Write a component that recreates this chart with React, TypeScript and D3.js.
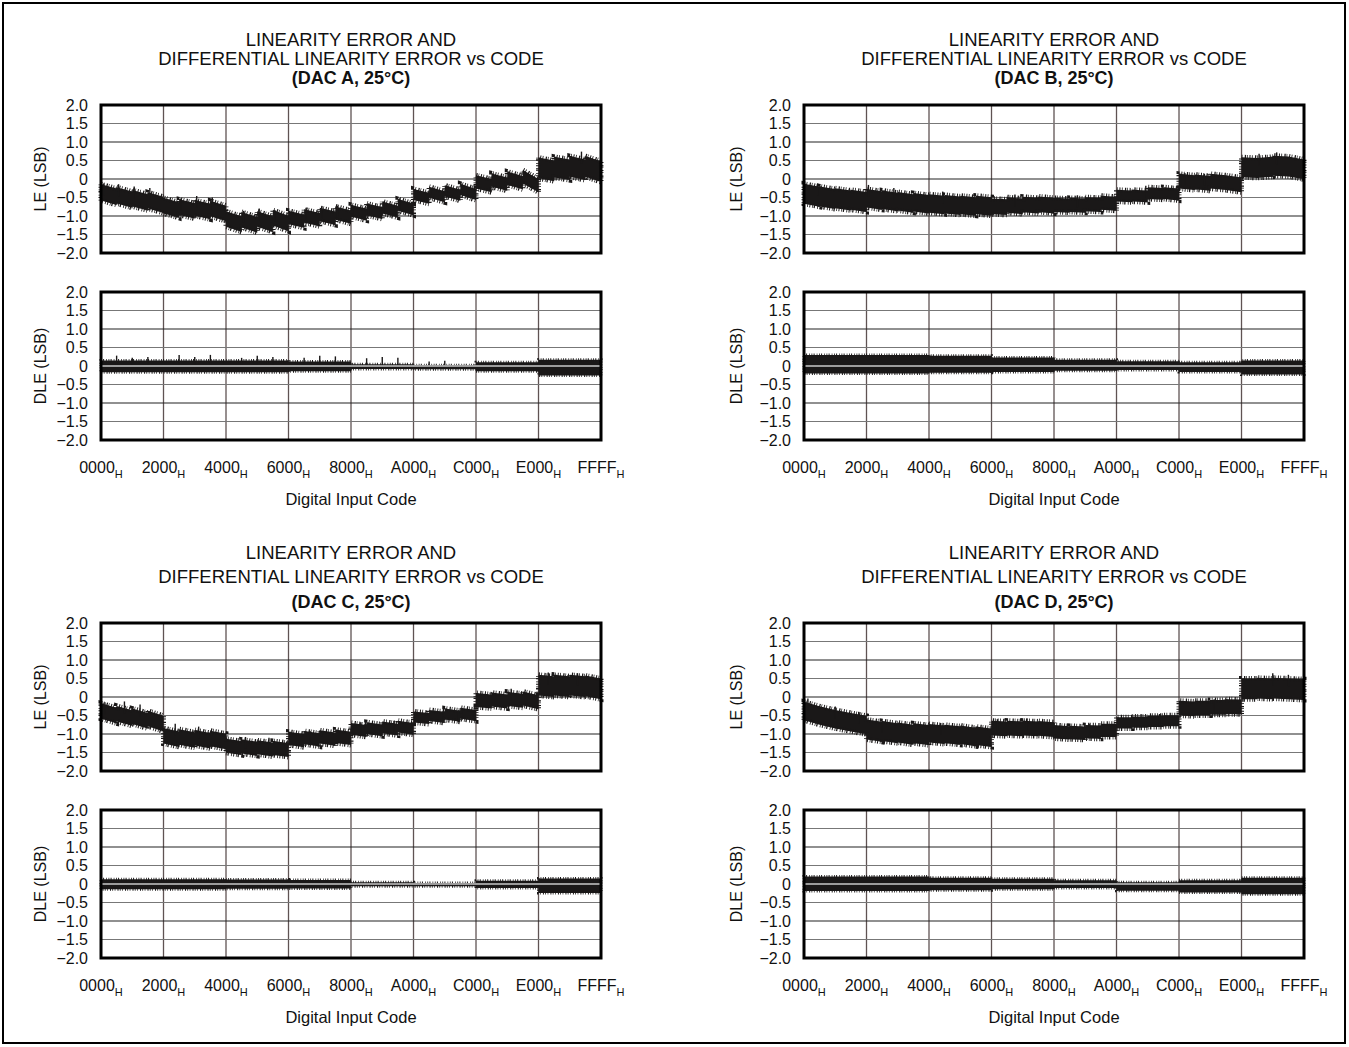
import React from "react";
import * as d3 from "d3";

// ---------- axis data ----------
const xTickCodes = [0x0000, 0x2000, 0x4000, 0x6000, 0x8000, 0xa000, 0xc000, 0xe000, 0xffff];
const xTickLabels = ["0000", "2000", "4000", "6000", "8000", "A000", "C000", "E000", "FFFF"];
const yTickValues = [2.0, 1.5, 1.0, 0.5, 0, -0.5, -1.0, -1.5, -2.0];
const yTickLabels = ["2.0", "1.5", "1.0", "0.5", "0", "\u22120.5", "\u22121.0", "\u22121.5", "\u22122.0"];
const dacNames = ["A", "B", "C", "D"];

// ---------- LE data: band centre at start / end of each 0x800 sub-range, half-width per 0x2000 segment ----------
const leA_start = [-0.36, -0.44, -0.52, -0.58, -0.72, -0.76, -0.78, -0.80, -1.08, -1.10, -1.08, -1.05, -1.04, -1.0, -0.96, -0.92, -0.86, -0.82, -0.77, -0.70, -0.42, -0.36, -0.32, -0.28, -0.08, -0.03, 0.02, 0.06, 0.30, 0.32, 0.34, 0.34];
const leA_end = [-0.48, -0.56, -0.63, -0.70, -0.84, -0.86, -0.88, -0.93, -1.22, -1.24, -1.22, -1.20, -1.14, -1.10, -1.06, -1.03, -0.96, -0.92, -0.88, -0.82, -0.52, -0.48, -0.44, -0.42, -0.18, -0.14, -0.10, -0.18, 0.22, 0.25, 0.25, 0.20];
const leA_half = [0.22, 0.21, 0.21, 0.18, 0.16, 0.15, 0.18, 0.28];

const leB_start = [-0.40, -0.47, -0.52, -0.56, -0.52, -0.56, -0.60, -0.63, -0.66, -0.68, -0.70, -0.70, -0.74, -0.70, -0.69, -0.68, -0.70, -0.70, -0.68, -0.64, -0.45, -0.45, -0.38, -0.38, -0.06, -0.08, -0.06, -0.10, 0.32, 0.30, 0.36, 0.34];
const leB_end = [-0.48, -0.54, -0.58, -0.62, -0.58, -0.62, -0.66, -0.68, -0.70, -0.72, -0.74, -0.74, -0.76, -0.74, -0.72, -0.72, -0.72, -0.72, -0.70, -0.67, -0.47, -0.47, -0.40, -0.42, -0.10, -0.12, -0.10, -0.16, 0.30, 0.33, 0.34, 0.26];
const leB_half = [0.27, 0.25, 0.25, 0.21, 0.19, 0.16, 0.2, 0.27];

const leC_start = [-0.38, -0.45, -0.52, -0.58, -1.05, -1.08, -1.10, -1.12, -1.32, -1.34, -1.36, -1.38, -1.12, -1.10, -1.08, -1.06, -0.86, -0.84, -0.82, -0.80, -0.54, -0.50, -0.46, -0.44, -0.08, -0.07, -0.05, -0.04, 0.32, 0.32, 0.32, 0.30];
const leC_end = [-0.50, -0.57, -0.64, -0.72, -1.14, -1.16, -1.18, -1.20, -1.38, -1.40, -1.42, -1.43, -1.18, -1.16, -1.14, -1.12, -0.92, -0.90, -0.88, -0.86, -0.58, -0.55, -0.52, -0.50, -0.12, -0.12, -0.10, -0.14, 0.28, 0.28, 0.28, 0.22];
const leC_half = [0.21, 0.21, 0.19, 0.18, 0.16, 0.15, 0.19, 0.28];

const leD_start = [-0.38, -0.50, -0.60, -0.68, -0.88, -0.92, -0.96, -0.98, -0.98, -1.0, -1.02, -1.05, -0.84, -0.84, -0.84, -0.85, -0.94, -0.96, -0.94, -0.90, -0.70, -0.68, -0.66, -0.64, -0.30, -0.30, -0.28, -0.26, 0.22, 0.24, 0.24, 0.22];
const leD_end = [-0.50, -0.60, -0.68, -0.76, -0.94, -0.98, -1.02, -1.03, -1.02, -1.04, -1.08, -1.10, -0.86, -0.86, -0.86, -0.88, -0.97, -0.98, -0.95, -0.90, -0.70, -0.68, -0.66, -0.64, -0.32, -0.30, -0.28, -0.27, 0.22, 0.22, 0.22, 0.20];
const leD_half = [0.25, 0.27, 0.25, 0.2, 0.18, 0.15, 0.2, 0.28];

// LE upward spikes (code, peak value)
const leA_spikeCodes = [0x0180, 0x0900, 0x1100, 0x1900, 0x2900, 0x3100, 0x3900, 0x4900, 0x5100, 0x5900, 0x6900, 0x7100, 0x7900, 0x8900, 0x9100, 0x9900, 0xf600];
const leA_spikeValues = [-0.12, -0.14, -0.2, -0.24, -0.52, -0.46, -0.5, -0.86, -0.8, -0.84, -0.78, -0.74, -0.72, -0.66, -0.6, -0.52, 0.74];
const leB_spikeCodes = [0x0700, 0x2100, 0x2e00, 0x4700, 0x6c00, 0x8c00, 0xaf00, 0xc300, 0xcd00, 0xe900, 0xf200];
const leB_spikeValues = [-0.12, -0.16, -0.24, -0.34, -0.42, -0.44, -0.18, 0.16, 0.14, 0.68, 0.72];
const leC_spikeCodes = [0x0200, 0x0c00, 0x1400, 0x2600, 0x3200, 0x4a00, 0x5600, 0x6b00, 0x8500, 0x9600, 0xb700, 0xd200, 0xe500, 0xf400];
const leC_spikeValues = [-0.14, -0.12, -0.2, -0.72, -0.8, -1.08, -1.1, -0.92, -0.68, -0.64, -0.36, 0.22, 0.66, 0.64];
const leD_spikeCodes = [0x0200, 0x1000, 0x1c00, 0x2800, 0x4600, 0x6300, 0x7200, 0x9200, 0xb600, 0xd200, 0xf000, 0xf800];
const leD_spikeValues = [-0.04, -0.26, -0.4, -0.64, -0.7, -0.6, -0.58, -0.72, -0.46, -0.06, 0.64, 0.6];

// ---------- DLE data: band top / bottom per 0x2000 segment ----------
const dleA_hi = [0.15, 0.15, 0.15, 0.12, 0.05, 0.02, 0.10, 0.17];
const dleA_lo = [-0.17, -0.17, -0.17, -0.14, -0.08, -0.09, -0.14, -0.26];
const dleB_hi = [0.30, 0.30, 0.28, 0.23, 0.17, 0.13, 0.10, 0.15];
const dleB_lo = [-0.20, -0.20, -0.18, -0.16, -0.13, -0.11, -0.16, -0.23];
const dleC_hi = [0.13, 0.13, 0.12, 0.11, 0.05, 0.03, 0.09, 0.15];
const dleC_lo = [-0.14, -0.14, -0.13, -0.12, -0.06, -0.06, -0.11, -0.24];
const dleD_hi = [0.20, 0.20, 0.17, 0.14, 0.10, 0.05, 0.10, 0.17];
const dleD_lo = [-0.19, -0.19, -0.17, -0.14, -0.11, -0.18, -0.23, -0.28];

// DLE spikes for DAC A (code, value)
const dleA_spikeCodes = [0x0800, 0x1000, 0x1800, 0x2800, 0x3000, 0x3800, 0x4800, 0x5000, 0x5800, 0x6800, 0x7000, 0x7800, 0x8800, 0x9000, 0x9800, 0xa800, 0xb000];
const dleA_spikeValues = [0.28, 0.22, 0.24, 0.30, 0.24, 0.30, 0.22, 0.28, 0.24, 0.22, 0.28, 0.26, 0.21, 0.24, 0.22, 0.12, 0.14];

const leStarts = [leA_start, leB_start, leC_start, leD_start];
const leEnds = [leA_end, leB_end, leC_end, leD_end];
const leHalfs = [leA_half, leB_half, leC_half, leD_half];
const leSpikes = [
  { codes: leA_spikeCodes, values: leA_spikeValues },
  { codes: leB_spikeCodes, values: leB_spikeValues },
  { codes: leC_spikeCodes, values: leC_spikeValues },
  { codes: leD_spikeCodes, values: leD_spikeValues },
];
const dleHis = [dleA_hi, dleB_hi, dleC_hi, dleD_hi];
const dleLos = [dleA_lo, dleB_lo, dleC_lo, dleD_lo];

type Pt = { code: number; hi: number; lo: number };
const SUB = 0x800;
const SEG = 0x2000;

function leBand(starts: number[], ends: number[], half: number[]): Pt[] {
  const pts: Pt[] = [];
  starts.forEach((s, i) => {
    const c0 = i * SUB;
    const c1 = Math.min((i + 1) * SUB - 1, 0xffff);
    const h = half[Math.floor(i / 4)];
    pts.push({ code: c0, hi: s + h, lo: s - h });
    pts.push({ code: c1, hi: ends[i] + h, lo: ends[i] - h });
  });
  return pts;
}

function dleBand(hi: number[], lo: number[]): Pt[] {
  const pts: Pt[] = [];
  hi.forEach((h, i) => {
    pts.push({ code: i * SEG, hi: h, lo: lo[i] });
    pts.push({ code: Math.min((i + 1) * SEG - 1, 0xffff), hi: h, lo: lo[i] });
  });
  return pts;
}

const FONT = "'Liberation Sans', Arial, Helvetica, sans-serif";
const INK = "#1a1818";
const PLOT_W = 500;
const PLOT_H = 148;

const panelLayout = [
  { x0: 101, dy: 0, labOff: 61, titleY: [46, 65, 84] },
  { x0: 804, dy: 0, labOff: 68, titleY: [46, 65, 84] },
  { x0: 101, dy: 518, labOff: 61, titleY: [559, 583, 608] },
  { x0: 804, dy: 518, labOff: 68, titleY: [559, 583, 608] },
];

function SubPlot({ x0, top, data, isDle, label, labOff, spikes }: any) {
  const x = d3.scaleLinear().domain([0, 0xffff]).range([x0, x0 + PLOT_W]);
  const y = d3.scaleLinear().domain([-2, 2]).range([top + PLOT_H, top]);
  const area = d3
    .area<Pt>()
    .x((d) => x(d.code))
    .y0((d) => y(d.lo))
    .y1((d) => y(d.hi));
  const dStr = area(data) || "";
  return (
    <g>
      {xTickCodes.slice(1, -1).map((c) => (
        <line key={"v" + c} x1={x(c)} x2={x(c)} y1={top} y2={top + PLOT_H} stroke="#5f5353" strokeWidth={1.3} />
      ))}
      {yTickValues.slice(1, -1).map((v) => (
        <line
          key={"h" + v}
          x1={x0}
          x2={x0 + PLOT_W}
          y1={y(v)}
          y2={y(v)}
          stroke={Number.isInteger(v) ? "#222" : "#777"}
          strokeWidth={1.2}
        />
      ))}
      <path d={dStr} fill={INK} stroke="none" />
      <path
        d={dStr}
        fill="none"
        stroke={INK}
        strokeWidth={isDle ? 3 : 5}
        strokeDasharray={isDle ? "0.8 1.3 1 2.1 0.7 1.6" : "1 1.4 0.8 2.3 1.3 0.9 0.7 1.8"}
      />
      {spikes &&
        spikes.codes.map((c: number, i: number) => (
          <line
            key={"s" + i}
            x1={x(c)}
            x2={x(c)}
            y1={isDle ? y(0) : y(spikes.values[i]) + 12}
            y2={y(spikes.values[i])}
            stroke={INK}
            strokeWidth={1.4}
          />
        ))}
      {isDle && <line x1={x0} x2={x0 + PLOT_W} y1={y(0)} y2={y(0)} stroke="#c8c8c8" strokeWidth={1.5} />}
      <rect x={x0} y={top} width={PLOT_W} height={PLOT_H} fill="none" stroke="#000" strokeWidth={3} />
      {yTickValues.map((v, i) => (
        <text key={"t" + v} x={x0 - 13} y={y(v)} dy="0.35em" textAnchor="end" fontSize={16} fontFamily={FONT} fill="#111">
          {yTickLabels[i]}
        </text>
      ))}
      <text
        transform={`translate(${x0 - labOff},${top + PLOT_H / 2}) rotate(-90)`}
        textAnchor="middle"
        dy="0.35em"
        fontSize={16}
        fontFamily={FONT}
        fill="#111"
      >
        {label}
      </text>
    </g>
  );
}

export default function App() {
  return (
    <svg
      width={1349}
      height={1047}
      style={{ position: "absolute", left: 0, top: 0, background: "#fff" }}
      fontFamily={FONT}
    >
      <rect x={0} y={0} width={1349} height={1047} fill="#fff" />
      <rect x={3} y={3} width={1342} height={1040} fill="none" stroke="#000" strokeWidth={2} />
      {dacNames.map((name, k) => {
        const { x0, dy, labOff, titleY } = panelLayout[k];
        const cx = x0 + PLOT_W / 2;
        const x = d3.scaleLinear().domain([0, 0xffff]).range([x0, x0 + PLOT_W]);
        return (
          <g key={name}>
            <text x={cx} y={titleY[0]} textAnchor="middle" fontSize={18.5} fill="#111">
              LINEARITY ERROR AND
            </text>
            <text x={cx} y={titleY[1]} textAnchor="middle" fontSize={18.5} fill="#111">
              DIFFERENTIAL LINEARITY ERROR vs CODE
            </text>
            <text x={cx} y={titleY[2]} textAnchor="middle" fontSize={18} fontWeight="bold" fill="#111">
              {`(DAC ${name}, 25\u00B0C)`}
            </text>
            <SubPlot
              x0={x0}
              top={105 + dy}
              data={leBand(leStarts[k], leEnds[k], leHalfs[k])}
              isDle={false}
              label="LE (LSB)"
              labOff={labOff}
              spikes={leSpikes[k]}
            />
            <SubPlot
              x0={x0}
              top={292 + dy}
              data={dleBand(dleHis[k], dleLos[k])}
              isDle={true}
              label="DLE (LSB)"
              labOff={labOff}
              spikes={k === 0 ? { codes: dleA_spikeCodes, values: dleA_spikeValues } : null}
            />
            {xTickCodes.map((c, i) => (
              <text key={c} x={x(c)} y={473 + dy} textAnchor="middle" fontSize={16} fill="#111">
                {xTickLabels[i]}
                <tspan fontSize={11} dy={5}>
                  H
                </tspan>
              </text>
            ))}
            <text x={cx} y={505 + dy} textAnchor="middle" fontSize={16.5} fill="#111">
              Digital Input Code
            </text>
          </g>
        );
      })}
    </svg>
  );
}
